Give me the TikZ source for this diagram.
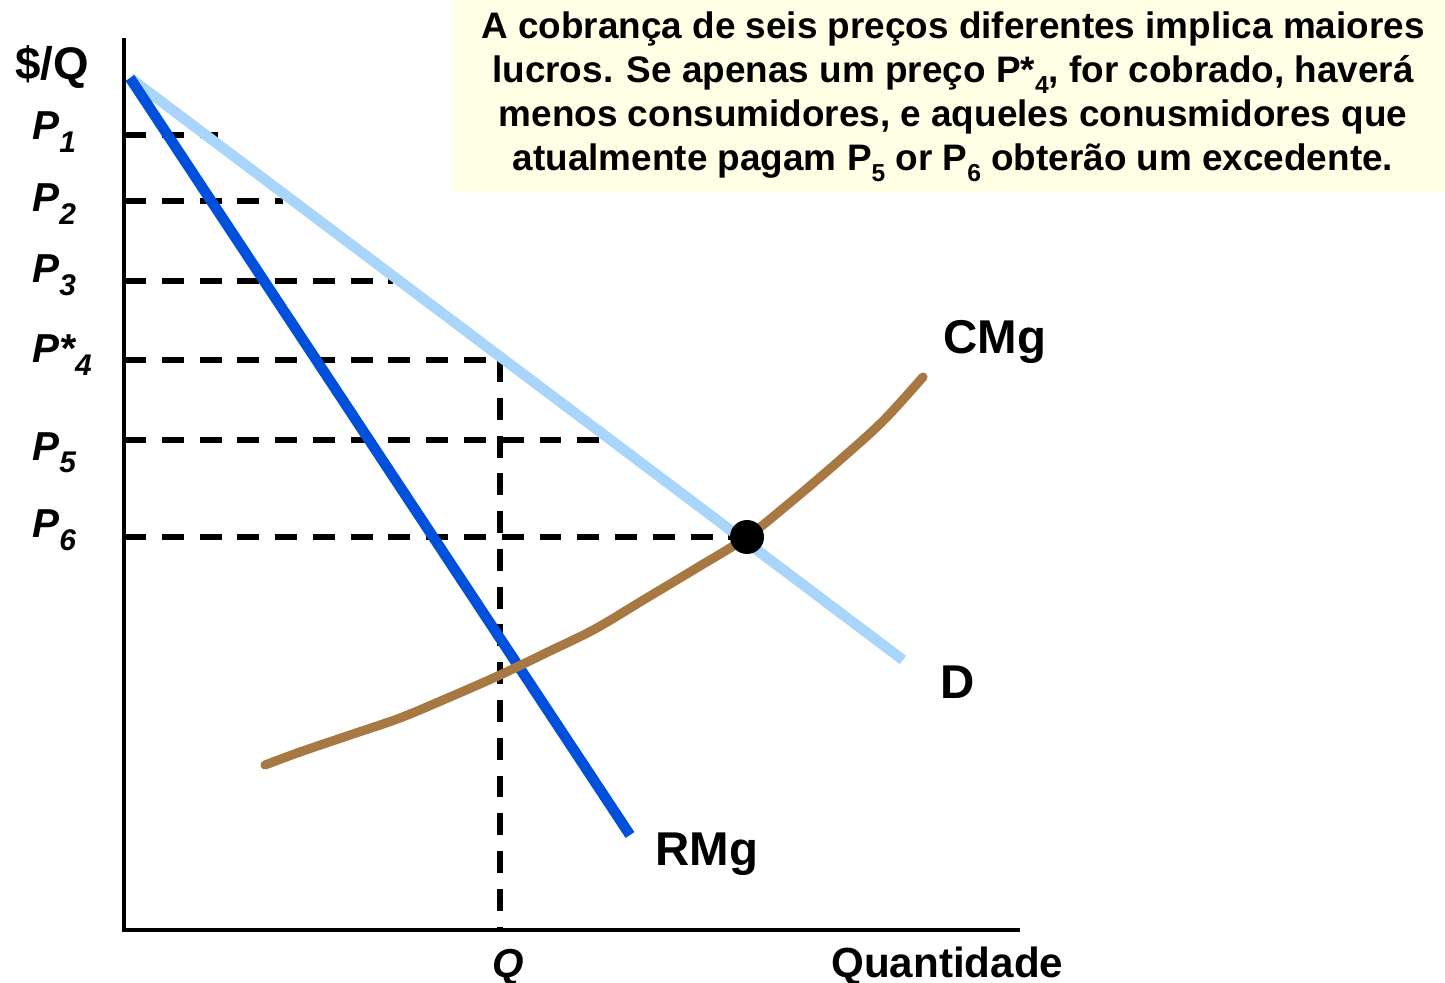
\documentclass[tikz,border=0pt]{standalone}
\usepackage{fontspec}
\setmainfont{Liberation Sans}
\definecolor{dlight}{HTML}{A9D5FA}
\definecolor{rblue}{HTML}{0050DC}
\definecolor{cbrown}{HTML}{A87842}
\definecolor{boxyellow}{HTML}{FFFFE6}
\newcommand{\dn}[1]{\raisebox{-7pt}{\fontsize{17}{17}\selectfont #1}}
\newcommand{\tdn}[1]{\raisebox{-0.3em}{\fontsize{14}{14}\selectfont #1}}
\begin{document}
\begin{tikzpicture}[x=0.02cm,y=-0.02cm,
  axis/.style={line width=2.6pt},
  guide/.style={line width=2.9pt,dash pattern=on 12.5pt off 9pt},
  plabel/.style={font=\fontsize{23}{23}\selectfont\bfseries\itshape,anchor=base west,inner sep=0pt},
  clabel/.style={font=\fontsize{27}{27}\selectfont\bfseries,anchor=base west,inner sep=0pt}]
\useasboundingbox (0,0) rectangle (1445,983);
% text box
\fill[boxyellow] (452,0) rectangle (1445,192);
\node[font=\fontsize{21}{25}\selectfont\bfseries,align=center] (note) at (953,97)
 {A cobrança de seis preços diferentes implica maiores\\
  lucros. Se apenas um preço P*\tdn{4}, for cobrado, haverá\\
  menos consumidores, e aqueles conusmidores que\\
  atualmente pagam P\tdn{5} or P\tdn{6} obterão um excedente.};
% axes
\coordinate (top) at (124,38);
\coordinate (orig) at (124,930);
\coordinate (xend) at (1020,930);
\draw[axis] (top) -- (orig) -- (xend);
% guides
\coordinate (q1) at (124,135); \coordinate (e1) at (218,135);
\coordinate (q2) at (124,201); \coordinate (e2) at (283,201);
\coordinate (q3) at (124,281); \coordinate (e3) at (393,281);
\coordinate (q4) at (124,360); \coordinate (e4) at (500,360);
\coordinate (q5) at (124,440); \coordinate (e5) at (600,440);
\coordinate (q6) at (124,537); \coordinate (e6) at (747,537);
\coordinate (qb) at (500,930);
\foreach \i in {1,...,6} \draw[guide] (q\i) -- (e\i);
\draw[guide] (e4) -- (qb);
% curves
\coordinate (start) at (130,78);
\coordinate (dend) at (903,660);
\coordinate (rend) at (630,835);
\draw[dlight,line width=6pt] (start) -- (dend);
\draw[rblue,line width=6pt] (start) -- (rend);
\draw[cbrown,line width=5.2pt,line cap=round] plot[smooth,tension=0.55] coordinates
 {(265,765) (300,752) (350,735) (400,718) (450,697) (500,675) (550,651) (595,629) (645,599) (695,569) (747,537) (792,501) (840,460) (883,421) (923,377)};
\fill (e6) circle (17);
% labels
\node[font=\fontsize{26}{26}\selectfont\bfseries,anchor=base west,inner sep=0pt] (yl) at (15,80) {\$/Q};
\node[plabel] (p1) at (32,140) {P\dn{1}};
\node[plabel] (p2) at (32,212) {P\dn{2}};
\node[plabel] (p3) at (32,283) {P\dn{3}};
\node[plabel] (p4) at (32,363) {P*\dn{4}};
\node[plabel] (p5) at (32,460) {P\dn{5}};
\node[plabel] (p6) at (32,538) {P\dn{6}};
\node[clabel] (cmg) at (943,354) {CMg};
\node[clabel] (dl) at (940,698) {D};
\node[clabel] (rmg) at (655,865) {RMg};
\node[plabel] (ql) at (492,977) {Q};
\node[font=\fontsize{24}{24}\selectfont\bfseries,anchor=base west,inner sep=0pt] (qt) at (831,977) {Quantidade};
\end{tikzpicture}
\end{document}
